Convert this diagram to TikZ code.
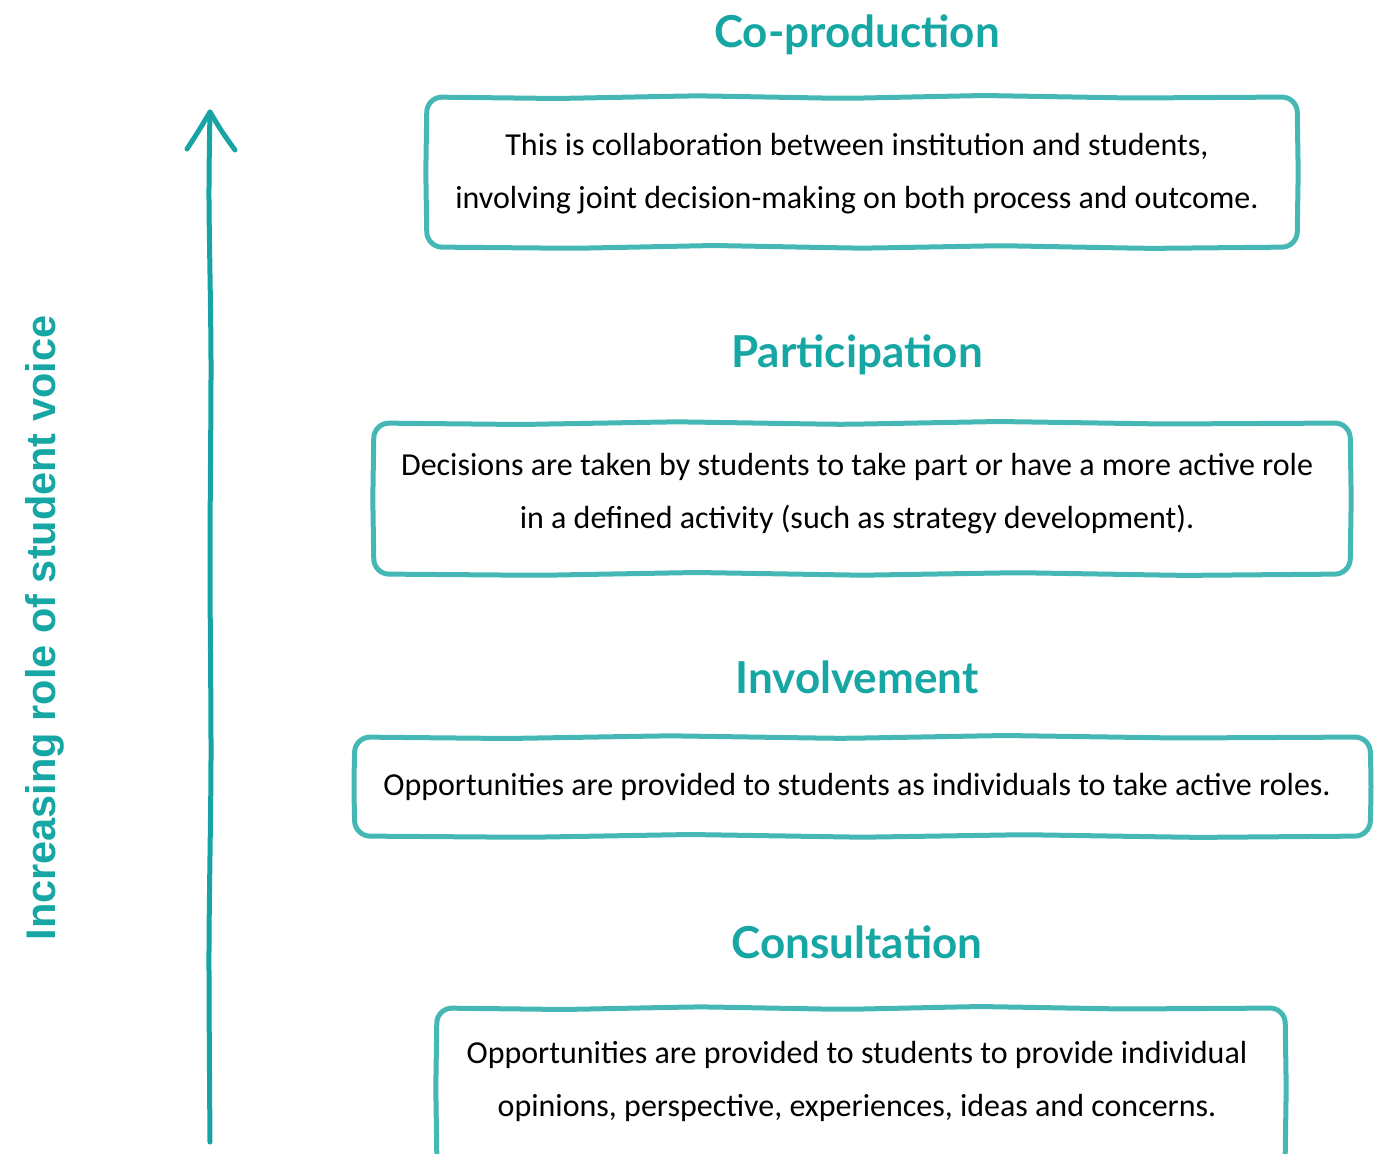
\documentclass[tikz,border=0pt]{standalone}
\usepackage{fontspec}
\setmainfont{Carlito}
\newfontfamily\headfont{Lato}
\newfontfamily\sidefont{Liberation Sans}
\definecolor{tealhead}{HTML}{16A6A4}
\definecolor{tealbox}{HTML}{45B8B6}
\definecolor{tealarrow}{HTML}{18A4A4}
\tikzset{
  level/.style={font=\headfont\bfseries\fontsize{44}{50}\selectfont, text=tealhead, inner sep=0pt},
  desc/.style={font=\fontsize{32}{53}\selectfont, align=center, inner sep=0pt},
  frame/.style={draw=tealbox, line width=5pt, rounded corners=15pt, line join=round},
  handline/.style={draw=tealarrow, line width=5pt, line cap=round, line join=round}
}
% hand-drawn frame: left, top, right, bottom
\newcommand\wobblebox[4]{%
  \draw[frame]
    (#1,#2)
    -- ({#1+0.15*(#3-#1)},{#2+1.5})
    -- ({#1+0.31*(#3-#1)},{#2-1.2})
    -- ({#1+0.48*(#3-#1)},{#2+1.4})
    -- ({#1+0.64*(#3-#1)},{#2-1.5})
    -- ({#1+0.81*(#3-#1)},{#2+1.0})
    -- (#3,#2)
    -- ({#3+1.2},{#2+0.5*(#4-#2)})
    -- (#3,#4)
    -- ({#1+0.83*(#3-#1)},{#4+1.4})
    -- ({#1+0.66*(#3-#1)},{#4-1.3})
    -- ({#1+0.50*(#3-#1)},{#4+1.2})
    -- ({#1+0.33*(#3-#1)},{#4-1.5})
    -- ({#1+0.17*(#3-#1)},{#4+1.3})
    -- (#1,#4)
    -- ({#1-1.2},{#2+0.5*(#4-#2)})
    -- cycle;}
\begin{document}
\begin{tikzpicture}[x=1pt,y=-1pt]
\useasboundingbox (0,0) rectangle (1382,1154);
\clip (0,0) rectangle (1382,1154);

% level headings
\node[level] (t1) at (857,35) {Co-production};
\node[level] (t2) at (857,355) {Participation};
\node[level] (t3) at (857,677) {Involvement};
\node[level] (t4) at (857,942) {Consultation};

% descriptions
\node[desc] (b1) at (857,174)
  {This is collaboration between institution and students,\\
   involving joint decision-making on both process and outcome.};
\node[desc] (b2) at (857,494)
  {Decisions are taken by students to take part or have a more active role\\
   in a defined activity (such as strategy development).};
\node[desc] (b3) at (857,787)
  {Opportunities are provided to students as individuals to take active roles.};
\node[desc] (b4) at (857,1081)
  {Opportunities are provided to students to provide individual\\
   opinions, perspective, experiences, ideas and concerns.};

% hand-drawn frames around the descriptions
\wobblebox{427}{97}{1297}{247}
\wobblebox{374}{423}{1350}{574}
\wobblebox{355}{737}{1370}{836}
\wobblebox{437}{1008}{1285}{1168}

% rising arrow
\coordinate (abot) at (210,1142);
\coordinate (atip) at (210,112);
\coordinate (wl) at (187,149);
\coordinate (wr) at (235,150);
\draw[handline] plot[smooth] coordinates {(abot) (209,950) (211,760) (210,560) (211,360) (209,200) (atip)};
\draw[handline] (wl) .. controls (198,132) .. (atip) .. controls (222,132) .. (wr);

% axis label
\node[rotate=90, font=\sidefont\bfseries\fontsize{41.5}{44}\selectfont, text=tealhead, inner sep=0pt] (lab) at (45,628)
  {Increasing role of student voice};
\end{tikzpicture}
\end{document}
